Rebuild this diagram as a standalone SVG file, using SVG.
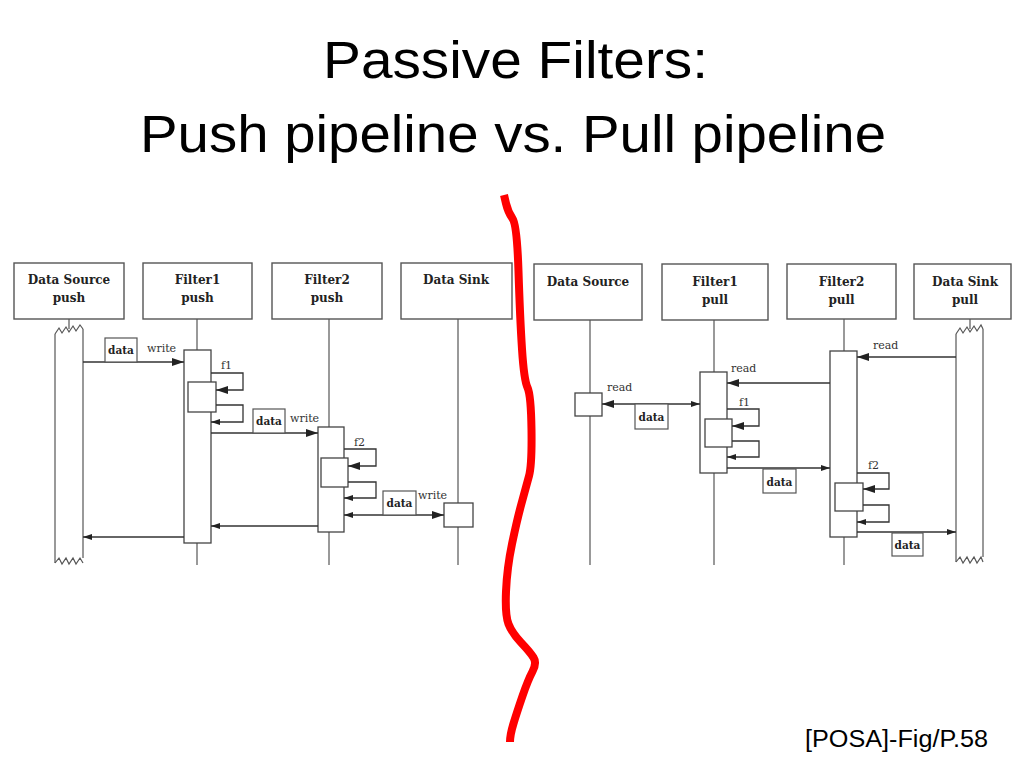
<svg xmlns="http://www.w3.org/2000/svg" width="1024" height="768" viewBox="0 0 1024 768">
<defs>
<style>
.title{font-family:"Liberation Sans",Arial,sans-serif;fill:#000;}
.box{fill:#fff;stroke:#555;stroke-width:1.4;}
.bar{fill:#fff;stroke:#444;stroke-width:1.3;}
.life{stroke:#555;stroke-width:1.2;fill:none;}
.nt{font-family:"DejaVu Serif","Liberation Serif",serif;font-weight:bold;font-size:12px;fill:#222;text-anchor:middle;}
.lbl{font-family:"DejaVu Serif","Liberation Serif",serif;font-size:11px;fill:#333;}
.dt{font-family:"DejaVu Serif","Liberation Serif",serif;font-weight:bold;font-size:10.5px;fill:#222;text-anchor:middle;}
.msg{stroke:#333;stroke-width:1.3;fill:none;}
.dbox{fill:#fff;stroke:#555;stroke-width:1.2;}
</style>
<marker id="ah" viewBox="0 0 12 8" refX="12" refY="4" markerWidth="12" markerHeight="8" orient="auto-start-reverse" markerUnits="userSpaceOnUse"><path d="M0,0 L12,4 L0,8 z" fill="#222"/></marker>
<marker id="as" viewBox="0 0 9 6" refX="9" refY="3" markerWidth="9" markerHeight="6" orient="auto-start-reverse" markerUnits="userSpaceOnUse"><path d="M0,0 L9,3 L0,6 z" fill="#222"/></marker>
</defs>
<rect width="1024" height="768" fill="#fff"/>

<text class="title" x="323" y="78" font-size="51" textLength="385" lengthAdjust="spacingAndGlyphs">Passive Filters:</text>
<text class="title" x="140" y="152" font-size="51" textLength="746" lengthAdjust="spacingAndGlyphs">Push pipeline vs. Pull pipeline</text>

<!-- LEFT: push pipeline -->
<g id="push-data-source">
<rect class="box" x="14" y="263" width="110" height="56"/>
<text class="nt" x="69" y="284">Data Source</text>
<text class="nt" x="69" y="302">push</text>
<line class="life" x1="69" y1="319" x2="69" y2="329"/>
<path class="life" d="M55,334 L59,328 L62,333 L66,327 L69,332 L73,326 L76,331 L80,325 L83,329"/>
<line class="life" x1="55" y1="334" x2="55" y2="563"/>
<line class="life" x1="83" y1="329" x2="83" y2="558"/>
<path class="life" d="M55,563 L59,558 L62,564 L66,558 L69,564 L73,558 L76,564 L80,558 L83,563"/>
</g>
<g id="push-filter1">
<rect class="box" x="143" y="263" width="109" height="56"/>
<text class="nt" x="197.5" y="284">Filter1</text>
<text class="nt" x="197.5" y="302">push</text>
<line class="life" x1="197" y1="319" x2="197" y2="565"/>
<rect class="bar" x="184" y="350" width="27" height="193"/>
<rect class="bar" x="188" y="382" width="28" height="30"/>
</g>
<g id="push-filter2">
<rect class="box" x="272" y="263" width="110" height="56"/>
<text class="nt" x="327" y="284">Filter2</text>
<text class="nt" x="327" y="302">push</text>
<line class="life" x1="329" y1="319" x2="329" y2="565"/>
<rect class="bar" x="318" y="427" width="26" height="105"/>
<rect class="bar" x="321" y="458" width="27" height="29"/>
</g>
<g id="push-data-sink">
<rect class="box" x="401" y="263" width="111" height="56"/>
<text class="nt" x="456" y="284">Data Sink</text>
<line class="life" x1="458" y1="319" x2="458" y2="565"/>
<rect class="bar" x="444" y="503" width="29" height="24"/>
</g>

<!-- RIGHT: pull pipeline -->
<g id="pull-data-source">
<rect class="box" x="534" y="264" width="108" height="56"/>
<text class="nt" x="588" y="286">Data Source</text>
<line class="life" x1="590" y1="320" x2="590" y2="565"/>
<rect class="bar" x="575" y="393" width="27" height="23"/>
</g>
<g id="pull-filter1">
<rect class="box" x="662" y="264" width="106" height="56"/>
<text class="nt" x="715" y="286">Filter1</text>
<text class="nt" x="715" y="304">pull</text>
<line class="life" x1="714" y1="320" x2="714" y2="565"/>
<rect class="bar" x="700" y="372" width="27" height="101"/>
<rect class="bar" x="705" y="419" width="27" height="28"/>
</g>
<g id="pull-filter2">
<rect class="box" x="787" y="264" width="109" height="55"/>
<text class="nt" x="841.5" y="286">Filter2</text>
<text class="nt" x="841.5" y="304">pull</text>
<line class="life" x1="844" y1="319" x2="844" y2="565"/>
<rect class="bar" x="830" y="351" width="27" height="186"/>
<rect class="bar" x="835" y="483" width="28" height="28"/>
</g>
<g id="pull-data-sink">
<rect class="box" x="914" y="264" width="97" height="55"/>
<text class="nt" x="965" y="286">Data Sink</text>
<text class="nt" x="965" y="304">pull</text>
<line class="life" x1="970" y1="319" x2="970" y2="329"/>
<path class="life" d="M956,334 L960,328 L963,333 L967,327 L970,332 L974,326 L977,331 L981,325 L983,329"/>
<line class="life" x1="956" y1="334" x2="956" y2="562"/>
<line class="life" x1="983" y1="329" x2="983" y2="557"/>
<path class="life" d="M956,562 L960,557 L963,563 L967,557 L970,563 L974,557 L977,563 L981,557 L983,562"/>
</g>

<g id="connectors">
<!-- push -->
<line class="msg" x1="83" y1="362" x2="184" y2="362" marker-end="url(#ah)"/>
<path class="msg" d="M211,373 H243 V390 H216" marker-end="url(#ah)"/>
<path class="msg" d="M216,405 H243 V422 H211" marker-end="url(#as)"/>
<line class="msg" x1="211" y1="433" x2="318" y2="433" marker-end="url(#ah)"/>
<path class="msg" d="M344,449 H376 V466 H348" marker-end="url(#ah)"/>
<path class="msg" d="M348,482 H376 V498 H344" marker-end="url(#as)"/>
<line class="msg" x1="344" y1="515" x2="444" y2="515" marker-start="url(#as)" marker-end="url(#ah)"/>
<line class="msg" x1="318" y1="526" x2="211" y2="526" marker-end="url(#as)"/>
<line class="msg" x1="184" y1="537" x2="83" y2="537" marker-end="url(#as)"/>
<!-- pull -->
<line class="msg" x1="956" y1="357" x2="857" y2="357" marker-end="url(#ah)"/>
<line class="msg" x1="830" y1="383" x2="727" y2="383" marker-end="url(#ah)"/>
<line class="msg" x1="700" y1="404" x2="602" y2="404" marker-start="url(#as)" marker-end="url(#ah)"/>
<path class="msg" d="M727,409 H759 V426 H732" marker-end="url(#ah)"/>
<path class="msg" d="M732,441 H759 V457 H727" marker-end="url(#as)"/>
<line class="msg" x1="727" y1="468" x2="830" y2="468" marker-end="url(#as)"/>
<path class="msg" d="M857,473 H889 V489 H863" marker-end="url(#ah)"/>
<path class="msg" d="M863,505 H889 V522 H857" marker-end="url(#as)"/>
<line class="msg" x1="857" y1="532" x2="956" y2="532" marker-end="url(#as)"/>
</g>

<g id="labels">
<rect class="dbox" x="105" y="338" width="32" height="24"/><text class="dt" x="121" y="354">data</text>
<text class="lbl" x="147" y="352">write</text>
<text class="lbl" x="221" y="369">f1</text>
<rect class="dbox" x="253" y="409" width="32" height="24"/><text class="dt" x="269" y="425">data</text>
<text class="lbl" x="290" y="422">write</text>
<text class="lbl" x="354" y="446">f2</text>
<rect class="dbox" x="383" y="491" width="33" height="24"/><text class="dt" x="399.5" y="507">data</text>
<text class="lbl" x="418" y="499">write</text>

<text class="lbl" x="873" y="349">read</text>
<text class="lbl" x="731" y="372">read</text>
<text class="lbl" x="607" y="391">read</text>
<rect class="dbox" x="635" y="404" width="33" height="25"/><text class="dt" x="651.5" y="421">data</text>
<text class="lbl" x="739" y="406">f1</text>
<rect class="dbox" x="763" y="469" width="33" height="24"/><text class="dt" x="779.5" y="486">data</text>
<text class="lbl" x="868" y="469">f2</text>
<rect class="dbox" x="892" y="533" width="31" height="23"/><text class="dt" x="907.5" y="549">data</text>
</g>

<path d="M504,195 L506,203.5 Q508,212 512.5,218.5 Q517,225 518.5,271.5 Q520,318 522,349 Q524,380 527.5,387.5 Q531,395 531.5,430 Q532,465 529,476 Q526,487 521.5,503.5 Q517,520 512,544 Q507,568 506,591.5 Q505,615 508.5,624 Q512,633 521,642.5 Q530,652 533.5,657.5 Q537,663 532.5,671.5 Q528,680 522.5,696 Q517,712 513.5,723.5 Q510,735 510,742" fill="none" stroke="#ff0000" stroke-width="8" stroke-linejoin="round" stroke-linecap="butt"/>

<text class="title" x="805" y="747" font-size="23" textLength="183" lengthAdjust="spacingAndGlyphs">[POSA]-Fig/P.58</text>
</svg>
